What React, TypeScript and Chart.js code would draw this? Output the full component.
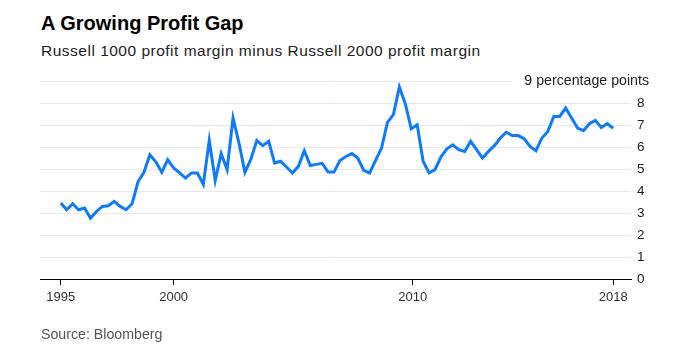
import React, { useEffect, useRef } from "react";
import { Chart, registerables } from "chart.js";

Chart.register(...registerables);

const marginGap: number[] = [
  3.45, 3.15, 3.42, 3.15, 3.23, 2.76, 3.07, 3.30, 3.33, 3.53,
  3.30, 3.15, 3.42, 4.42, 4.85, 5.65, 5.33, 4.85, 5.42, 5.05,
  4.82, 4.59, 4.82, 4.82, 4.30, 6.30, 4.48, 5.70, 4.97, 7.32,
  6.18, 4.85, 5.45, 6.29, 6.06, 6.26, 5.27, 5.35, 5.09, 4.82,
  5.12, 5.83, 5.16, 5.21, 5.26, 4.86, 4.86, 5.39, 5.57, 5.70,
  5.50, 4.94, 4.82, 5.39, 5.95, 7.12, 7.47, 8.73, 7.97, 6.83,
  7.01, 5.35, 4.82, 4.97, 5.55, 5.92, 6.10, 5.88, 5.80, 6.26,
  5.88, 5.50, 5.80, 6.06, 6.41, 6.67, 6.52, 6.52, 6.38, 6.03,
  5.83, 6.41, 6.71, 7.39, 7.39, 7.77, 7.32, 6.86, 6.74, 7.06,
  7.21, 6.89, 7.06, 6.85,
];

const xTickPositions: number[] = [0, 19, 59.25, 93];
const xTickLabels: string[] = ["1995", "2000", "2010", "2018"];
const yTicks: number[] = [0, 1, 2, 3, 4, 5, 6, 7, 8, 9];
const topTickLabel = "9 percentage points";

const FONT = "'Liberation Sans', Arial, Helvetica, sans-serif";

export default function App() {
  const ref = useRef<HTMLCanvasElement | null>(null);

  useEffect(() => {
    if (!ref.current) return;
    const topLabelPlugin = {
      id: "topLabel",
      afterDraw(chart: any) {
        const { ctx, scales, chartArea } = chart;
        const y = scales.y.getPixelForValue(9);
        ctx.save();
        ctx.font = `14.2px ${FONT}`;
        const w = ctx.measureText(topTickLabel).width;
        const right = 649;
        ctx.fillStyle = "#fff";
        ctx.fillRect(right - w - 12, y - 4, chartArea.right - (right - w - 12) + 2, 8);
        ctx.fillStyle = "#222";
        ctx.textAlign = "right";
        ctx.textBaseline = "middle";
        ctx.fillText(topTickLabel, right, y);
        ctx.restore();
      },
    };

    const chart = new Chart(ref.current, {
      type: "line",
      data: {
        datasets: [
          {
            data: marginGap.map((v, i) => ({ x: i, y: v })),
            borderColor: "#0c7bff",
            borderWidth: 3,
            pointRadius: 0,
            tension: 0,
            fill: false,
          },
        ],
      },
      options: {
        animation: false,
        responsive: false,
        maintainAspectRatio: false,
        layout: { padding: { left: 40, top: 81, right: 0, bottom: 0 } },
        plugins: { legend: { display: false }, tooltip: { enabled: false } },
        scales: {
          x: {
            type: "linear",
            min: -3.5,
            max: 96,
            afterBuildTicks: (scale: any) => {
              scale.ticks = xTickPositions.map((v) => ({ value: v }));
            },
            afterFit: (scale: any) => {
              scale.height = 84;
            },
            grid: {
              drawOnChartArea: false,
              drawTicks: true,
              tickLength: 6,
              tickColor: "#000",
              tickWidth: 1,
            },
            border: { display: true, color: "#000", width: 1 },
            ticks: {
              autoSkip: false,
              maxRotation: 0,
              padding: 5,
              color: "#333",
              font: { family: FONT, size: 13 },
              callback: (value: any) => {
                const idx = xTickPositions.indexOf(Number(value));
                return idx >= 0 ? xTickLabels[idx] : "";
              },
            },
          },
          y: {
            position: "right",
            min: 0,
            max: 9,
            afterBuildTicks: (scale: any) => {
              scale.ticks = yTicks.map((v) => ({ value: v }));
            },
            afterFit: (scale: any) => {
              scale.width = 65;
            },
            grid: { color: "#e8e8e8", lineWidth: 1, drawTicks: false },
            border: { display: false },
            ticks: {
              padding: 6,
              color: "#222",
              font: { family: FONT, size: 13.5 },
              callback: (value: any) => (Number(value) === 9 ? "" : String(value)),
            },
          },
        },
      },
      plugins: [topLabelPlugin],
    });
    return () => chart.destroy();
  }, []);

  return (
    <div style={{ position: "fixed", left: 0, top: 0, width: 696, height: 363, background: "#fff", fontFamily: FONT }}>
      <div style={{ position: "absolute", left: 41, top: 12, fontSize: 20, fontWeight: 700, color: "#000", whiteSpace: "nowrap" }}>
        A Growing Profit Gap
      </div>
      <div style={{ position: "absolute", left: 41, top: 42, fontSize: 15.5, letterSpacing: 0.5, color: "#222", whiteSpace: "nowrap" }}>
        Russell 1000 profit margin minus Russell 2000 profit margin
      </div>
      <canvas ref={ref} width={696} height={363} style={{ position: "absolute", left: 0, top: 0, width: 696, height: 363 }} />
      <div style={{ position: "absolute", left: 41, top: 326, fontSize: 14.2, color: "#555", whiteSpace: "nowrap" }}>
        Source: Bloomberg
      </div>
    </div>
  );
}
